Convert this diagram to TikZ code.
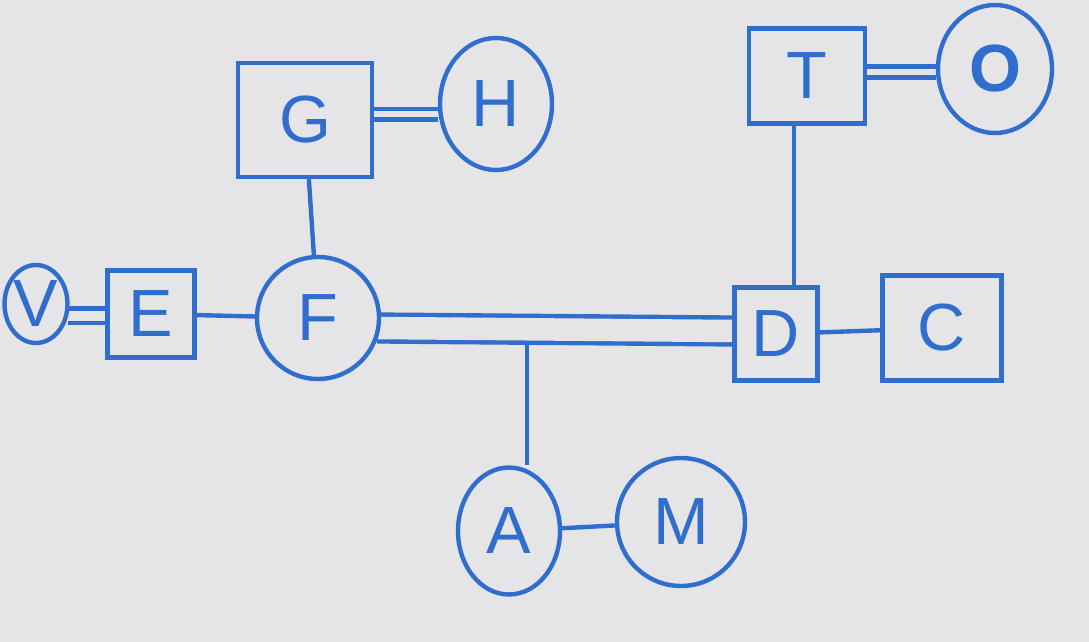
\documentclass[tikz,border=0pt]{standalone}
\usepackage{fontspec}
\setmainfont{Liberation Sans}
\usetikzlibrary{shapes.geometric,backgrounds}
\definecolor{paper}{RGB}{229,228,231}
\definecolor{ink}{RGB}{48,110,205}

\begin{document}
\begin{tikzpicture}[y=-0.02cm,x=0.02cm,
	sq/.style={draw=ink, line width=2.5pt, rectangle, inner sep=0pt, text=ink, font=\fontsize{38}{38}\selectfont},
	ring/.style={sq, ellipse},
	link/.style={draw=ink, line width=2.5pt},
	pair/.style={link, double=paper}]
	\useasboundingbox (0,0) rectangle (1089,642);

	\node[ring, minimum width=1.24cm, minimum height=1.56cm] (V) at (36,304) {V};
	\node[sq, minimum width=1.74cm, minimum height=1.74cm] (E) at (151,314) {E};
	\node[ring, minimum width=2.44cm, minimum height=2.44cm] (F) at (318,318) {F};
	\node[sq, minimum width=2.68cm, minimum height=2.28cm] (G) at (305,120) {G};
	\node[ring, minimum width=2.24cm, minimum height=2.64cm] (H) at (496,104) {H};
	\node[sq, minimum width=2.32cm, minimum height=1.9cm] (T) at (807,76) {T};
	\node[ring, minimum width=2.28cm, minimum height=2.56cm, font=\fontsize{38}{38}\selectfont\bfseries] (O) at (995,69) {O};
	\node[sq, minimum width=1.66cm, minimum height=1.86cm] (D) at (776,334) {D};
	\node[sq, minimum width=2.38cm, minimum height=2.1cm] (C) at (942,328) {C};
	\node[ring, minimum width=2.04cm, minimum height=2.54cm] (A) at (509,531) {A};
	\node[ring, minimum width=2.56cm, minimum height=2.56cm] (M) at (681,522) {M};
	\coordinate (fdA) at (527,341);

	\begin{scope}[on background layer]
		\fill[paper] (0,0) rectangle (1089,642);
		\draw[pair, double distance=0.2cm] (V.-20) -- (V.-20 -| E.west);
		\draw[link] (E) -- (F);
		\draw[link] (G) -- (F);
		\draw[pair, double distance=0.13cm] (G.east |- H.190) -- (H.190);
		\draw[pair, double distance=0.13cm] (T.east |- O.183) -- (O.183);
		\draw[link] (D.70 |- T.south) -- (D.70);
		\draw[link] (D) -- (C);
		\draw[pair, double distance=0.45cm] ([shift={(-0.08cm,-0.2cm)}]F.east) -- ([yshift=0.06cm]D.west);
		\draw[link] (fdA) -- (fdA |- A.north);
		\draw[link] (A) -- (M);
	\end{scope}
\end{tikzpicture}
\end{document}
